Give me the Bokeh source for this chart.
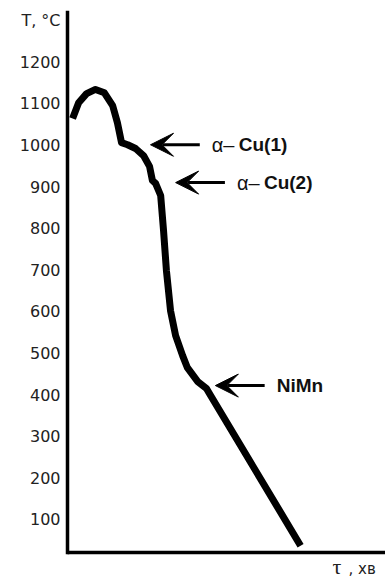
from bokeh.plotting import figure
from bokeh.models import Range1d, FixedTicker, Arrow, VeeHead, ColumnDataSource
from bokeh.core.properties import value
from bokeh.embed import file_html
from bokeh.resources import INLINE

# cooling curve: time (arbitrary units) and temperature (°C)
tau = [1.6, 3.5, 6.0, 8.8, 11.6, 14.2, 15.7, 17.0, 18.9, 21.4, 23.9, 25.8, 26.7,
       27.7, 29.3, 30.2, 31.1, 32.4, 34.0, 36.2, 37.7, 40.9, 43.7, 45.0, 73.3]
temp = [1065, 1103, 1125, 1135, 1127, 1096, 1055, 1007, 1002, 993, 976, 950, 916,
        909, 880, 796, 700, 603, 543, 495, 466, 433, 416, 399, 38]

y_ticks = [100, 200, 300, 400, 500, 600, 700, 800, 900, 1000, 1100, 1200, 1300]
y_title = "T, °C"
x_title_main = "τ"
x_title_unit = ", хв"

phase_prefix = ["α–", "α–", ""]
phase_names = ["Cu(1)", "Cu(2)", "NiMn"]
phase_tau = [26.1, 34.0, 46.5]
phase_temp = [1002, 911, 423]

X0, X1 = 0, 100
AXIS_T = 21.6          # temperature at which the time axis sits
Y0, Y1 = -40.9, 1320
arrow_len = 15.5

p = figure(width=385, height=578, x_range=Range1d(X0, X1), y_range=Range1d(Y0, Y1),
           output_backend="svg", toolbar_location=None,
           min_border_left=67, min_border_right=0, min_border_top=12, min_border_bottom=0)
p.outline_line_color = None
p.grid.visible = False

# y axis
p.yaxis.ticker = FixedTicker(ticks=y_ticks)
p.yaxis.bounds = (AXIS_T, Y1)
p.yaxis.major_label_overrides = {1300: y_title}
p.yaxis.major_tick_out = 0
p.yaxis.major_tick_in = 0
p.yaxis.minor_tick_out = 0
p.yaxis.minor_tick_in = 0
p.yaxis.axis_line_width = 3.5
p.yaxis.axis_line_color = "black"
p.yaxis.axis_line_cap = "square"
p.yaxis.major_label_text_font = "DejaVu Sans"
p.yaxis.major_label_text_font_size = "16px"
p.yaxis.major_label_text_color = "#222222"
p.yaxis.major_label_standoff = 7

# x axis (sits on the T = AXIS_T line)
p.xaxis.fixed_location = AXIS_T
p.xaxis.ticker = FixedTicker(ticks=[])
p.xaxis.major_tick_out = 0
p.xaxis.major_tick_in = 0
p.xaxis.minor_tick_out = 0
p.xaxis.minor_tick_in = 0
p.xaxis.major_label_text_font_size = "0px"
p.xaxis.axis_line_width = 3.5
p.xaxis.axis_line_color = "black"
p.xaxis.axis_line_cap = "square"

# curve
p.line(tau, temp, line_width=7, line_color="black", line_join="round", line_cap="butt")

# arrows
asrc = ColumnDataSource(dict(
    xs=[t + arrow_len for t in phase_tau], xe=phase_tau, y=phase_temp))
p.add_layout(Arrow(end=VeeHead(size=23, fill_color="black", line_color="black", line_width=1),
                   x_start="xs", y_start="y", x_end="xe", y_end="y",
                   line_width=3, line_color="black", source=asrc))

tsrc = ColumnDataSource(dict(
    x=[t + arrow_len for t in phase_tau], y=phase_temp,
    pre=phase_prefix, name=phase_names,
    off=[12 + (27 if pre else 0) for pre in phase_prefix]))
p.text(x="x", y="y", text="pre", source=tsrc, x_offset=12,
       text_font=value("Liberation Sans"), text_font_size="20px",
       text_baseline="middle", text_align="left", text_color="#111111")
p.text(x="x", y="y", text="name", source=tsrc, x_offset="off",
       text_font=value("Liberation Sans"), text_font_size="19px", text_font_style="bold",
       text_baseline="middle", text_align="left", text_color="#111111")

# x title, below the time axis at its right end
p.text(x=[X1], y=[AXIS_T], text=[x_title_main], x_offset=-53, y_offset=14,
       text_font=value("Liberation Serif"), text_font_size="22px",
       text_baseline="middle", text_align="left", text_color="#222222")
p.text(x=[X1], y=[AXIS_T], text=[x_title_unit], x_offset=-37, y_offset=16,
       text_font=value("DejaVu Sans"), text_font_size="15px",
       text_baseline="middle", text_align="left", text_color="#222222")

open("out.html", "w").write(file_html(p, INLINE))
